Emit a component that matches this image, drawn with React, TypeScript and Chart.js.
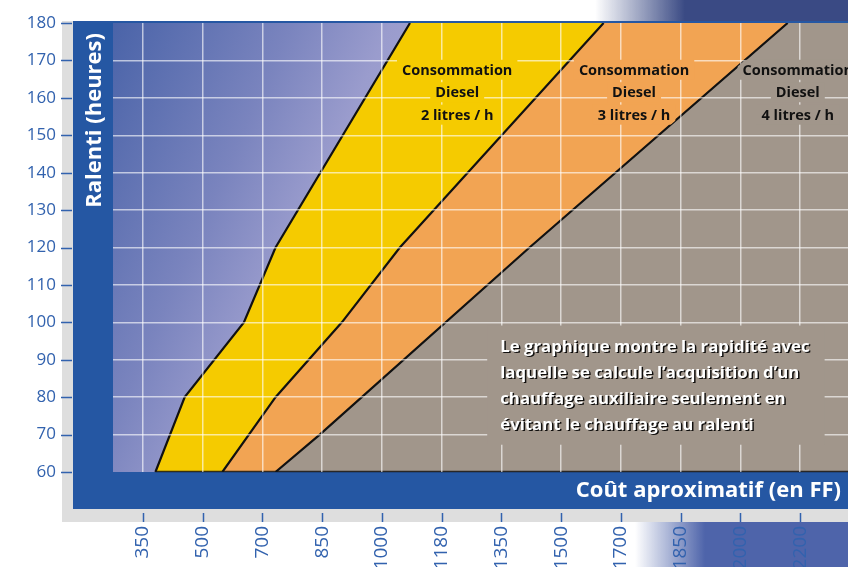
import { useEffect, useRef } from 'react';
import { Chart, registerables } from 'chart.js';

Chart.register(...registerables);

// Axis categories (cost, FF) - evenly spaced tick labels
const costLabels = ['350', '500', '700', '850', '1000', '1180', '1350', '1500', '1700', '1850', '2000', '2200'];
// Idle hours axis
const hoursMin = 60;
const hoursMax = 180;
const hoursStep = 10;

// Boundary lines (position along cost axis in tick-index units, idle hours)
const limit2Hours = [60, 80, 100, 120, 180];
const limit2Pos = [0.21, 0.7, 1.69, 2.22, 4.47];
const limit3Hours = [60, 80, 100, 120, 180];
const limit3Pos = [1.33, 2.22, 3.33, 4.3, 7.71];
const limit4Hours = [60, 70, 120, 180];
const limit4Pos = [2.22, 2.96, 6.47, 10.79];

const zoneColors = ['#F5CB00', '#F2A453', '#A1968B'];
const zoneTitle = ['Consommation', 'Diesel'];
const zoneRates = ['2 litres / h', '3 litres / h', '4 litres / h'];
const zoneLabelPos = [5.26, 8.22, 10.96];
const zoneLabelHours = [167.5, 161.5, 155.5];

const noteLines = [
  'Le graphique montre la rapidité avec',
  'laquelle se calcule l’acquisition d’un',
  'chauffage auxiliaire seulement en',
  'évitant le chauffage au ralenti',
];
const notePos = 5.98;
const noteHours = [92.2, 85.2, 78.3, 71.3];

const xTitle = 'Coût aproximatif (en FF)';
const yTitle = 'Ralenti (heures)';

const FONT = '"Open Sans", "Noto Sans", sans-serif';
const TICK_COLOR = '#3262AE';
const FRAME_BLUE = '#2557A3';

const toPoints = (pos: number[], hours: number[]) => pos.map((x, i) => ({ x, y: hours[i] }));

function zoneClip(chart: any, i: number) {
  const ctx = chart.ctx;
  const a = chart.chartArea;
  const left = chart.getDatasetMeta(i).data.map((p: any) => ({ x: p.x, y: p.y }));
  const right =
    i + 1 < 3
      ? chart.getDatasetMeta(i + 1).data.map((p: any) => ({ x: p.x, y: p.y }))
      : [
          { x: a.right, y: a.bottom },
          { x: a.right, y: a.top },
        ];
  ctx.beginPath();
  ctx.rect(a.left, a.top, a.right - a.left, a.bottom - a.top);
  ctx.clip();
  ctx.beginPath();
  left.forEach((p: any, k: number) => (k === 0 ? ctx.moveTo(p.x, p.y) : ctx.lineTo(p.x, p.y)));
  right
    .slice()
    .reverse()
    .forEach((p: any) => ctx.lineTo(p.x, p.y));
  ctx.closePath();
  ctx.clip();
}

const noPadding = (s: any) => {
  s.paddingLeft = 0;
  s.paddingRight = 0;
  s.paddingTop = 0;
  s.paddingBottom = 0;
};

const framePlugin = {
  id: 'frame',
  beforeDraw(chart: any) {
    const { ctx, chartArea: a, width, height } = chart;
    ctx.save();
    let g = ctx.createLinearGradient(595, 0, 685, 0);
    g.addColorStop(0, 'rgba(58,74,132,0)');
    g.addColorStop(1, 'rgba(58,74,132,1)');
    ctx.fillStyle = g;
    ctx.fillRect(560, 0, width - 560, 22);
    g = ctx.createLinearGradient(635, 0, 705, 0);
    g.addColorStop(0, 'rgba(78,100,170,0)');
    g.addColorStop(1, 'rgba(78,100,170,1)');
    ctx.fillStyle = g;
    ctx.fillRect(600, 521, width - 600, height - 521);
    ctx.fillStyle = '#DEDEDE';
    ctx.fillRect(62, 21, width - 62, 501);
    ctx.fillStyle = FRAME_BLUE;
    ctx.fillRect(73, 21, width - 73, 488);
    g = ctx.createLinearGradient(100, 10, 430, 157);
    g.addColorStop(0, '#4560A6');
    g.addColorStop(0.5, '#7A84BE');
    g.addColorStop(0.75, '#9A9CCD');
    g.addColorStop(1, '#A5A6D4');
    ctx.fillStyle = g;
    ctx.fillRect(a.left, a.top, a.right - a.left, a.bottom - a.top);
    ctx.restore();
  },
  afterDatasetsDraw(chart: any) {
    // dark outline along the bottom of the filled zones
    const { ctx, chartArea: a } = chart;
    const first = chart.getDatasetMeta(0).data[0];
    ctx.save();
    ctx.strokeStyle = 'rgba(20,20,20,0.85)';
    ctx.lineWidth = 1.5;
    ctx.beginPath();
    ctx.moveTo(first.x, a.bottom - 0.5);
    ctx.lineTo(a.right, a.bottom - 0.5);
    ctx.stroke();
    ctx.restore();
  },
  afterDraw(chart: any) {
    const { ctx } = chart;
    const xs = chart.scales.x;
    const ys = chart.scales.y;
    ctx.save();
    // tick marks
    ctx.strokeStyle = TICK_COLOR;
    ctx.lineWidth = 1.5;
    ctx.beginPath();
    ys.ticks.forEach((t: any) => {
      const p = Math.round(ys.getPixelForValue(t.value)) + 0.5;
      ctx.moveTo(61, p);
      ctx.lineTo(72, p);
    });
    xs.ticks.forEach((t: any) => {
      const p = Math.round(xs.getPixelForValue(t.value)) + 0.5;
      ctx.moveTo(p, 513);
      ctx.lineTo(p, 522);
    });
    ctx.stroke();

    // zone labels
    ctx.font = `700 14.5px ${FONT}`;
    ctx.textAlign = 'center';
    ctx.textBaseline = 'middle';
    zoneRates.forEach((rate, i) => {
      const cx = xs.getPixelForValue(zoneLabelPos[i]);
      const lines = [...zoneTitle, rate];
      ctx.save();
      zoneClip(chart, i);
      ctx.fillStyle = zoneColors[i];
      lines.forEach((s, j) => {
        const cy = ys.getPixelForValue(zoneLabelHours[j]);
        const w = ctx.measureText(s).width;
        ctx.fillRect(cx - w / 2 - 5, cy - 10, w + 10, 20);
      });
      ctx.restore();
      ctx.fillStyle = '#111';
      lines.forEach((s, j) => ctx.fillText(s, cx, ys.getPixelForValue(zoneLabelHours[j]) + 1));
    });

    // note paragraph
    ctx.font = `700 16.8px ${FONT}`;
    ctx.textAlign = 'left';
    ctx.textBaseline = 'alphabetic';
    const x0 = xs.getPixelForValue(notePos);
    const maxW = Math.max(...noteLines.map((s) => ctx.measureText(s).width));
    const top = ys.getPixelForValue(noteHours[0]) - 26;
    const bottom = ys.getPixelForValue(noteHours[noteLines.length - 1]) + 15;
    ctx.save();
    zoneClip(chart, 2);
    ctx.fillStyle = zoneColors[2];
    ctx.fillRect(x0 - 13, top, maxW + 28, bottom - top);
    ctx.restore();
    ctx.save();
    ctx.shadowColor = 'rgba(0,0,0,0.9)';
    ctx.shadowOffsetX = 1.5;
    ctx.shadowOffsetY = 1.5;
    ctx.shadowBlur = 0.5;
    ctx.fillStyle = '#FFFFFF';
    noteLines.forEach((s, j) => ctx.fillText(s, x0, ys.getPixelForValue(noteHours[j])));
    ctx.restore();

    // axis titles
    ctx.font = `700 22px ${FONT}`;
    ctx.fillStyle = '#FFFFFF';
    ctx.textAlign = 'right';
    ctx.textBaseline = 'alphabetic';
    ctx.fillText(xTitle, 841, 497);
    ctx.save();
    ctx.translate(101, 33);
    ctx.rotate(-Math.PI / 2);
    ctx.textAlign = 'right';
    ctx.fillText(yTitle, 0, 0);
    ctx.restore();
    ctx.restore();
  },
};

export default function App() {
  const ref = useRef<HTMLCanvasElement>(null);
  useEffect(() => {
    Chart.defaults.font.family = FONT;
    const gridColor = 'rgba(255,255,255,0.62)';
    const lineStyle = { borderColor: '#111111', borderWidth: 2.2, pointRadius: 0, tension: 0 };
    const chart = new Chart(ref.current as HTMLCanvasElement, {
      type: 'line',
      data: {
        datasets: [
          { ...lineStyle, data: toPoints(limit2Pos, limit2Hours), backgroundColor: zoneColors[0], fill: '+1' },
          { ...lineStyle, data: toPoints(limit3Pos, limit3Hours), backgroundColor: zoneColors[1], fill: '+1' },
          { ...lineStyle, data: toPoints(limit4Pos, limit4Hours), backgroundColor: zoneColors[2], fill: { value: 14 } },
        ],
      } as any,
      options: {
        indexAxis: 'y',
        animation: false,
        responsive: false,
        events: [],
        layout: { padding: { top: 23, left: 0, right: 0, bottom: 0 } },
        plugins: {
          legend: { display: false },
          tooltip: { enabled: false },
          title: { display: false },
          filler: { drawTime: 'beforeDatasetsDraw' },
        },
        scales: {
          x: {
            type: 'linear',
            min: -0.5,
            max: 11.8,
            afterFit: (s: any) => {
              s.height = 95;
              noPadding(s);
            },
            ticks: {
              stepSize: 1,
              includeBounds: false,
              autoSkip: false,
              maxRotation: 90,
              minRotation: 90,
              padding: 54,
              color: TICK_COLOR,
              font: { size: 19, family: FONT },
              callback: (v: any) => (Number.isInteger(v) && costLabels[v] !== undefined ? costLabels[v] : ''),
            },
            grid: { z: 1, drawTicks: false, color: gridColor, lineWidth: 1.5 },
            border: { display: false },
          },
          y: {
            type: 'linear',
            min: hoursMin,
            max: hoursMax,
            reverse: false,
            afterFit: (s: any) => {
              s.width = 113;
              noPadding(s);
            },
            ticks: {
              stepSize: hoursStep,
              padding: 57,
              color: TICK_COLOR,
              font: { size: 17, family: FONT },
            },
            grid: {
              z: 1,
              drawTicks: false,
              color: (c: any) =>
                c.tick && (c.tick.value === hoursMin || c.tick.value === hoursMax) ? 'rgba(0,0,0,0)' : gridColor,
              lineWidth: 1.5,
            },
            border: { display: false },
          },
        },
      } as any,
      plugins: [framePlugin],
    });
    return () => chart.destroy();
  }, []);
  return (
    <div style={{ position: 'fixed', left: 0, top: 0, width: 848, height: 567 }}>
      <canvas ref={ref} width={848} height={567} style={{ display: 'block' }} />
    </div>
  );
}
